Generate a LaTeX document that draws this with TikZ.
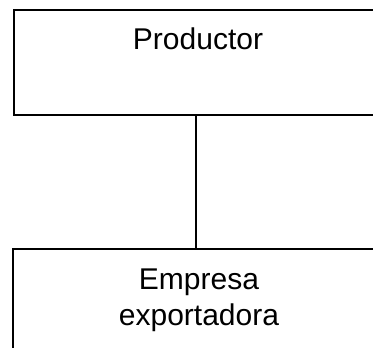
\documentclass[tikz,border=0pt]{standalone}
\usepackage{fontspec}
\setmainfont{Liberation Sans}
\begin{document}
\begin{tikzpicture}[x=1pt,y=-1pt,
  box/.style={draw=black, line width=1.5pt, anchor=north west, inner sep=0pt},
  txt/.style={font=\fontsize{30}{35.7}\selectfont, align=center, inner sep=0pt}]
\useasboundingbox (0,0) rectangle (373,348);
\node[box, minimum width=380pt, minimum height=105pt] (prod) at (13,9) {};
\node[box, minimum width=380pt, minimum height=140pt] (emp) at (12,248) {};
\node[txt, anchor=base] (prodtext) at (198,49) {Productor};
\node[txt, anchor=base] (emptext1) at (199,289) {Empresa};
\node[txt, anchor=base] (emptext2) at (199,325) {exportadora};
\draw[line width=1.5pt] (prod.south -| 196,0) -- (emp.north -| 196,0);
\end{tikzpicture}
\end{document}
